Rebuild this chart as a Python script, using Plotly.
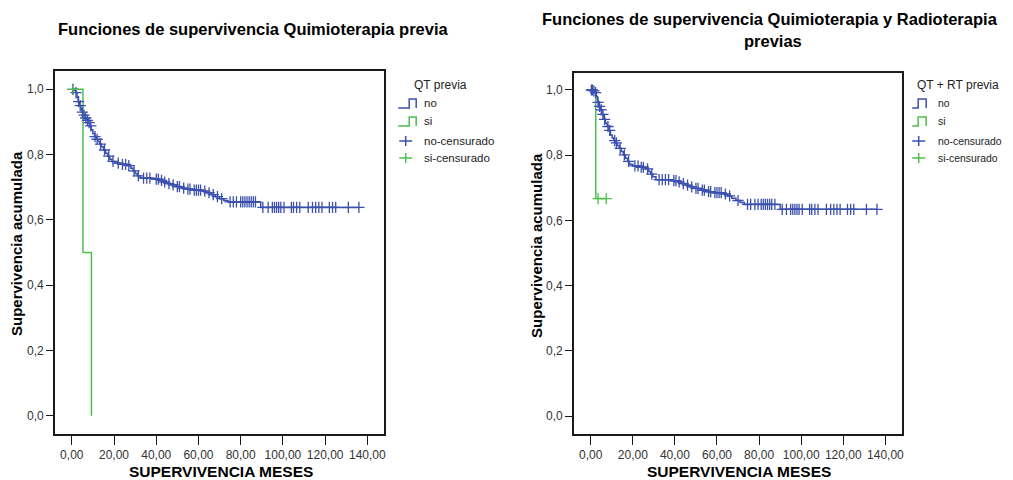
import plotly.graph_objects as go

# the page puts the plot 8px in from the top-left, so lay out in a 1005x472 box
OFF = 8
W, H = 1013 - OFF, 480 - OFF
BLUE = "#3B4FAE"
GREEN = "#4CBF4C"
FONT = "Liberation Sans, Arial, sans-serif"

# --- Quimioterapia previa (QT previa) ---
qt_no_t = [1.0, 1.8, 2.5, 3.0, 3.6, 4.2, 4.8, 5.4, 6.2, 7.0, 7.8, 8.5, 9.2, 10.0, 10.8, 11.6,
           12.4, 13.2, 14.0, 15.0, 16.0, 17.0, 18.0, 19.0, 20.5, 23.0, 26.5, 28.0, 29.0, 30.0,
           31.0, 32.5, 38.0, 41.5, 43.0, 45.0, 47.0, 49.5, 52.0, 54.5, 57.0, 62.0, 64.0, 66.0,
           68.0, 70.0, 72.0, 74.0, 89.5]
qt_no_s = [0.996, 0.990, 0.975, 0.962, 0.950, 0.940, 0.930, 0.921, 0.912, 0.905, 0.898, 0.888,
           0.876, 0.864, 0.855, 0.847, 0.840, 0.832, 0.824, 0.814, 0.804, 0.795, 0.786, 0.779,
           0.774, 0.770, 0.766, 0.758, 0.750, 0.742, 0.735, 0.728, 0.725, 0.721, 0.716, 0.711,
           0.707, 0.702, 0.697, 0.694, 0.691, 0.688, 0.683, 0.677, 0.671, 0.665, 0.659, 0.655,
           0.638]
qt_no_cens = [0.5, 2.0, 3.2, 4.0, 5.0, 5.8, 6.6, 7.4, 8.2, 9.0, 11.0, 12.0, 13.6, 15.5, 17.5,
              19.5, 22.0, 24.0, 25.5, 27.0, 29.5, 31.5, 34.0, 35.5, 37.0, 40.0, 41.0, 42.5, 44.0,
              46.0, 48.0, 50.0, 51.0, 53.0, 55.0, 56.0, 58.0, 59.0, 60.0, 61.0, 63.0, 65.0, 67.0,
              69.0, 71.0, 75.0, 76.5, 78.0, 80.0, 81.0, 82.0, 83.0, 84.0, 85.0, 86.0, 87.0, 90.5,
              93.0, 95.0, 96.0, 97.0, 98.0, 99.0, 100.5, 104.0, 105.0, 106.5, 108.0, 112.0, 114.0,
              115.5, 117.0, 118.5, 122.0, 123.5, 125.0, 131.0, 136.0]
qt_si_t = [5.3, 9.3]
qt_si_s = [0.5, 0.0]
qt_si_cens = [0.6]

# --- Quimioterapia y Radioterapia previas (QT + RT previa) ---
qtrt_no_t = [1.0, 2.0, 2.7, 3.2, 3.8, 4.6, 5.4, 6.2, 7.0, 7.8, 8.6, 9.4, 10.2, 11.0, 11.8, 12.6,
             13.5, 14.5, 15.5, 16.5, 17.5, 18.4, 20.0, 23.0, 26.0, 27.5, 28.5, 29.5, 31.0, 38.0,
             41.5, 43.0, 45.0, 47.0, 49.0, 52.0, 55.0, 58.0, 63.0, 65.0, 67.0, 69.0, 71.0, 73.0,
             90.0]
qtrt_no_s = [0.997, 0.992, 0.980, 0.962, 0.950, 0.939, 0.925, 0.910, 0.898, 0.888, 0.876, 0.862,
             0.853, 0.845, 0.838, 0.830, 0.821, 0.811, 0.801, 0.791, 0.781, 0.772, 0.767, 0.763,
             0.758, 0.750, 0.742, 0.734, 0.725, 0.722, 0.718, 0.713, 0.708, 0.703, 0.698, 0.693,
             0.688, 0.685, 0.681, 0.675, 0.668, 0.661, 0.655, 0.649, 0.634]
qtrt_no_cens = [0.3, 0.8, 1.5, 2.3, 3.5, 4.2, 5.0, 5.8, 6.6, 8.2, 9.0, 11.4, 12.2, 14.0, 16.0,
                18.0, 21.0, 22.5, 24.0, 25.0, 27.0, 29.0, 32.5, 34.0, 35.5, 37.0, 39.5, 40.5,
                42.0, 44.0, 46.0, 48.0, 50.0, 51.0, 53.0, 54.0, 56.0, 57.0, 59.0, 60.0, 61.0,
                62.0, 64.0, 66.0, 70.0, 74.5, 76.0, 78.0, 79.5, 81.0, 82.0, 83.0, 84.0, 85.0,
                86.0, 87.5, 91.0, 93.0, 95.0, 96.0, 97.0, 98.0, 99.0, 100.5, 104.0, 105.0,
                106.5, 108.0, 112.0, 114.0, 115.5, 117.0, 118.5, 122.0, 123.5, 125.0, 131.0,
                136.0]
qtrt_si_t = [2.4]
qtrt_si_s = [0.667]
qtrt_si_cens = [3.5, 7.4]

x_ticks = [0, 20, 40, 60, 80, 100, 120, 140]
x_ticktext = ["0,00", "20,00", "40,00", "60,00", "80,00", "100,00", "120,00", "140,00"]
y_ticks = [0.0, 0.2, 0.4, 0.6, 0.8, 1.0]
y_ticktext = ["0,0", "0,2", "0,4", "0,6", "0,8", "1,0"]


def surv_at(t, times, surv):
    s = 1.0
    for ti, si in zip(times, surv):
        if ti <= t:
            s = si
    return s


def step_trace(times, surv, cens, color, xa, ya):
    x = [0.0] + list(times)
    y = [1.0] + list(surv)
    last = max(cens) if cens else 0
    if surv[-1] > 0 and last > x[-1]:
        x.append(last)
        y.append(surv[-1])
    return go.Scatter(x=x, y=y, mode="lines", line=dict(color=color, width=1.5, shape="hv"),
                      xaxis=xa, yaxis=ya, showlegend=False, hoverinfo="skip")


def cens_trace(times, surv, cens, color, xa, ya):
    return go.Scatter(x=cens, y=[surv_at(c, times, surv) for c in cens], mode="markers",
                      marker=dict(symbol="cross-thin", size=8, line=dict(color=color, width=1.3)),
                      xaxis=xa, yaxis=ya, showlegend=False, hoverinfo="skip")


fig = go.Figure()
fig.add_trace(step_trace(qt_no_t, qt_no_s, qt_no_cens, BLUE, "x", "y"))
fig.add_trace(step_trace(qt_si_t, qt_si_s, qt_si_cens, GREEN, "x", "y"))
fig.add_trace(cens_trace(qt_no_t, qt_no_s, qt_no_cens, BLUE, "x", "y"))
fig.add_trace(cens_trace(qt_si_t, qt_si_s, qt_si_cens, GREEN, "x", "y"))

fig.add_trace(step_trace(qtrt_si_t, qtrt_si_s, qtrt_si_cens, GREEN, "x2", "y2"))
fig.add_trace(step_trace(qtrt_no_t, qtrt_no_s, qtrt_no_cens, BLUE, "x2", "y2"))
fig.add_trace(cens_trace(qtrt_no_t, qtrt_no_s, qtrt_no_cens, BLUE, "x2", "y2"))
fig.add_trace(cens_trace(qtrt_si_t, qtrt_si_s, qtrt_si_cens, GREEN, "x2", "y2"))


# screen pixel -> paper fraction
def px(x):
    return (x - OFF) / W


def py(y):
    return (H - (y - OFF)) / H


axis_common = dict(showline=True, mirror=True, linecolor="#1a1a1a", linewidth=1.5,
                   ticks="outside", tickcolor="#1a1a1a", tickwidth=1.2, showgrid=False,
                   zeroline=False, tickfont=dict(family=FONT, size=12, color="#333"))

fig.update_layout(
    width=W, height=H,
    margin=dict(l=0, r=0, t=0, b=0),
    paper_bgcolor="white", plot_bgcolor="white",
    font=dict(family=FONT, color="black"),
    xaxis=dict(domain=[px(55), px(385)], range=[-8, 148], tickvals=x_ticks,
               ticktext=x_ticktext, ticklen=9, anchor="y", **axis_common),
    yaxis=dict(domain=[py(434), py(71)], range=[-0.056, 1.056], tickvals=y_ticks,
               ticktext=y_ticktext, ticklen=7, anchor="x", **axis_common),
    xaxis2=dict(domain=[px(575), px(904)], range=[-8, 148], tickvals=x_ticks,
                ticktext=x_ticktext, ticklen=9, anchor="y2", **axis_common),
    yaxis2=dict(domain=[py(434), py(72.7)], range=[-0.055, 1.053], tickvals=y_ticks,
                ticktext=y_ticktext, ticklen=7, anchor="x2", **axis_common),
)

annotations = []


def text(s, x, y, size, bold=False, xanchor="center", angle=0, color="black"):
    annotations.append(dict(text="<b>%s</b>" % s if bold else s, x=px(x), y=py(y),
                            xref="paper", yref="paper", showarrow=False, xanchor=xanchor,
                            yanchor="middle", textangle=angle,
                            font=dict(family=FONT, size=size, color=color)))


text("Funciones de supervivencia Quimioterapia previa", 254, 29, 16.5, bold=True)
text("Funciones de supervivencia Quimioterapia y Radioterapia", 772, 19, 16.5, bold=True)
text("previas", 775, 41, 16.5, bold=True)
text("SUPERVIVENCIA MESES", 221, 471, 15.5, bold=True)
text("SUPERVIVENCIA MESES", 740, 471, 15.5, bold=True)
text("Supervivencia acumulada", 16, 243, 15, bold=True, angle=-90)
text("Supervivencia acumulada", 537, 245, 15, bold=True, angle=-90)

shapes = []


def legend(title, title_x, tx, x0, xr, x1, cx, item_size):
    text(title, title_x, 85, 12, color="#222")
    labels = ["no", "si", "no-censurado", "si-censurado"]
    ys = [103, 121, 141, 158]
    for lab, yy in zip(labels, ys):
        text(lab, tx, yy, item_size, xanchor="left", color="#222")
    for yy, col in [(ys[0], BLUE), (ys[1], GREEN)]:
        path = "M %f %f L %f %f L %f %f L %f %f L %f %f" % (
            px(x0), py(yy + 5), px(xr), py(yy + 5), px(xr), py(yy - 4),
            px(x1), py(yy - 4), px(x1), py(yy + 5))
        shapes.append(dict(type="path", path=path, xref="paper", yref="paper",
                           line=dict(color=col, width=1.5)))
    for yy, col in [(ys[2], BLUE), (ys[3], GREEN)]:
        shapes.append(dict(type="line", xref="paper", yref="paper", x0=px(cx - 6.5),
                           x1=px(cx + 6.5), y0=py(yy), y1=py(yy), line=dict(color=col, width=1.5)))
        shapes.append(dict(type="line", xref="paper", yref="paper", x0=px(cx), x1=px(cx),
                           y0=py(yy - 5), y1=py(yy + 5), line=dict(color=col, width=1.5)))


legend("QT previa", 441, 423, 399, 410, 417, 406.5, 11.5)
legend("QT + RT previa", 960, 938, 914, 920, 928, 920.5, 10.4)

fig.update_layout(annotations=annotations, shapes=shapes)

fig.write_html("out.html")
